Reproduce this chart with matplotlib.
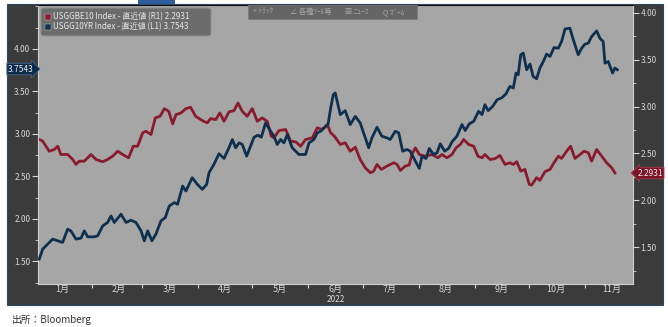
import pandas as pd
import matplotlib.pyplot as plt
import matplotlib.dates as mdates
from matplotlib.ticker import MultipleLocator, FuncFormatter
from matplotlib.patches import Rectangle, FancyBboxPatch

plt.rcParams["font.family"] = ["Noto Sans CJK JP", "DejaVu Sans"]

# days after 2022-01-01
be10_days = [2.1, 4.0, 7.6, 10.4, 12.3, 14.1, 17.8, 20.6, 22.4, 24.2, 27.0, 30.7,
             33.5, 37.2, 39.9, 42.7, 45.5, 48.2, 51.5, 54.1, 56.5, 59.3, 61.1, 63.9,
             66.3, 68.9, 71.3, 73.7, 75.9, 77.7, 80.5, 83.2, 85.8, 88.6, 92.3, 95.0,
             96.9, 99.7, 102.0, 104.3, 107.0, 109.8, 112.0, 114.4, 117.1, 119.9, 122.7,
             125.4, 128.2, 130.4, 131.9, 134.7, 138.4, 141.1, 143.9, 146.7, 149.4,
             153.1, 155.9, 158.6, 161.4, 163.3, 165.5, 168.6, 171.3, 174.1, 176.9,
             179.6, 182.4, 185.2, 187.1, 188.9, 191.3, 194.4, 198.1, 200.0, 201.8,
             204.5, 206.7, 208.2, 210.1, 212.3, 215.6, 219.3, 222.6, 224.8, 227.6,
             230.4, 232.6, 235.0, 236.8, 239.6, 242.4, 244.7, 247.0, 248.6, 251.4,
             254.1, 256.9, 259.7, 262.4, 264.3, 266.2, 268.4, 270.7, 273.1, 274.4,
             277.2, 279.0, 281.8, 284.6, 286.8, 289.2, 291.0, 293.8, 296.0, 298.4,
             301.2, 303.4, 305.8, 307.6, 310.4, 313.2, 315.9, 318.7, 320.5]
be10_vals = [2.649, 2.631, 2.524, 2.542, 2.577, 2.489, 2.489, 2.436, 2.383, 2.418, 2.418, 2.489,
             2.436, 2.412, 2.436, 2.471, 2.524, 2.489, 2.454, 2.577, 2.577, 2.720, 2.737, 2.702,
             2.879, 2.896, 2.978, 2.949, 2.815, 2.914, 2.932, 2.978, 2.992, 2.896, 2.850, 2.826,
             2.872, 2.861, 2.932, 2.843, 2.943, 2.956, 3.038, 2.949, 2.896, 2.978, 2.843,
             2.879, 2.843, 2.684, 2.667, 2.744, 2.755, 2.631, 2.624, 2.577, 2.649,
             2.667, 2.773, 2.755, 2.808, 2.720, 2.680, 2.596, 2.614, 2.524, 2.567,
             2.436, 2.348, 2.295, 2.312, 2.383, 2.330, 2.365, 2.401, 2.383, 2.319,
             2.365, 2.376, 2.489, 2.560, 2.489, 2.471, 2.489, 2.454, 2.489, 2.454,
             2.489, 2.560, 2.596, 2.649, 2.596, 2.577, 2.471, 2.454, 2.489, 2.436,
             2.444, 2.479, 2.383, 2.401, 2.383, 2.412, 2.312, 2.330, 2.171, 2.163,
             2.242, 2.213, 2.306, 2.330, 2.401, 2.471, 2.447, 2.524, 2.577, 2.447,
             2.489, 2.524, 2.507, 2.418, 2.542, 2.471, 2.401, 2.348, 2.2931]

ust10_days = [2.1, 4.0, 6.7, 9.5, 12.3, 15.0, 17.8, 19.6, 22.4, 25.2, 27.0, 28.9, 32.5,
              34.4, 37.2, 39.9, 41.8, 43.6, 47.3, 50.1, 52.8, 55.6, 58.4, 60.2, 62.1,
              64.4, 66.6, 69.4, 71.8, 74.0, 76.8, 78.6, 81.4, 83.2, 86.7, 89.5, 92.3,
              94.7, 96.0, 98.7, 101.5, 104.3, 107.0, 108.9, 110.7, 112.6, 114.4, 116.8,
              118.6, 120.9, 123.1, 124.9, 127.3, 130.1, 131.9, 133.7, 135.6, 137.4,
              139.3, 142.0, 143.9, 145.7, 149.4, 151.3, 154.0, 155.9, 157.7, 159.6,
              161.8, 163.3, 164.7, 165.8, 168.6, 171.3, 174.1, 176.9, 179.6, 182.4,
              184.3, 186.1, 188.9, 191.6, 194.4, 196.2, 199.0, 200.9, 203.1, 205.5,
              207.3, 210.1, 212.3, 213.8, 216.0, 217.8, 220.2, 222.1, 223.9, 226.3,
              228.5, 230.4, 233.1, 235.9, 237.7, 239.9, 242.4, 245.1, 247.0, 248.6,
              250.4, 252.9, 255.4, 257.8, 260.2, 262.4, 264.3, 265.8, 267.0, 268.4,
              269.8, 271.7, 273.5, 275.3, 277.2, 279.0, 280.9, 282.7, 284.6, 286.8,
              289.2, 291.0, 292.9, 295.6, 297.5, 300.2, 302.1, 303.9, 305.8, 307.6,
              310.4, 312.2, 314.0, 315.0, 316.8, 319.2, 320.5, 321.8]
ust10_vals = [1.526, 1.644, 1.702, 1.761, 1.741, 1.722, 1.878, 1.858, 1.761, 1.773, 1.858, 1.788, 1.788,
              1.800, 1.917, 1.957, 2.034, 1.957, 2.054, 1.957, 1.984, 1.957, 1.858, 1.741, 1.858,
              1.741, 1.819, 1.975, 2.015, 2.151, 2.191, 2.171, 2.386, 2.327, 2.484, 2.406, 2.347,
              2.406, 2.543, 2.640, 2.766, 2.710, 2.836, 2.933, 2.836, 2.894, 2.875, 2.737,
              2.836, 2.960, 2.984, 2.960, 3.129, 3.030, 2.972, 2.875, 2.933, 2.894,
              2.992, 2.836, 2.796, 2.757, 2.757, 2.894, 2.933, 3.012, 3.030, 3.070,
              3.109, 3.305, 3.461, 3.481, 3.226, 3.273, 3.109, 3.206, 3.129, 2.953,
              2.836, 2.953, 3.077, 2.972, 2.953, 2.933, 3.030, 3.012, 2.796, 2.816,
              2.796, 2.679, 2.593, 2.737, 2.710, 2.828, 2.757, 2.777, 2.883, 2.796,
              2.828, 2.906, 2.972, 3.109, 3.039, 3.117, 3.148, 3.265, 3.226, 3.343,
              3.273, 3.324, 3.402, 3.422, 3.469, 3.558, 3.539, 3.715, 3.695, 3.930,
              3.950, 3.754, 3.821, 3.675, 3.648, 3.774, 3.851, 3.938, 3.910, 4.015,
              4.008, 4.086, 4.234, 4.243, 4.106, 3.930, 4.008, 4.055, 4.067, 4.144,
              4.211, 4.125, 4.086, 3.832, 3.851, 3.715, 3.774, 3.7543]

left_ticks = [1.5, 2.0, 2.5, 3.0, 3.5, 4.0]
right_ticks = [1.5, 2.0, 2.5, 3.0, 3.5, 4.0]
legend_labels = ["USGGBE10 Index - 直近値 (R1) 2.2931",
                 "USGG10YR Index - 直近値 (L1) 3.7543"]
toolbar_items = ["+ ﾄﾗｯｸ", "∠ 各種ﾂｰﾙ等", "▦ ﾆｭｰｽ", "Q ｽﾞｰﾑ"]

RED = "#8a1a2e"
BLUE = "#0f2f4f"
PANEL = "#3b3b3b"
PLOT_BG = "#a6a6a6"
TXT = "#d6d6d6"

W, H = 668, 327


def fx(x):
    return x / W


def fy(y):
    return 1 - y / H


base = pd.Timestamp("2022-01-01")
be10_dates = base + pd.to_timedelta(be10_days, unit="D")
ust10_dates = base + pd.to_timedelta(ust10_days, unit="D")

fig = plt.figure(figsize=(6.68, 3.27), dpi=100)
fig.patch.set_facecolor("white")

# dark bloomberg panel
fig.add_artist(Rectangle((fx(7), fy(305)), fx(663) - fx(7), fy(4) - fy(305),
                         transform=fig.transFigure, fc=PANEL, ec="#2c4766", lw=0.8, zorder=-5))
fig.add_artist(Rectangle((fx(138), fy(4)), fx(175) - fx(138), fy(0) - fy(4),
                         transform=fig.transFigure, fc="#2f5d9b", ec="none", zorder=-5))

ax = fig.add_axes([fx(38), fy(284), fx(633) - fx(38), fy(5) - fy(284)])
ax2 = ax.twinx()

# blue (left axis) drawn above red (right axis); grey background on the lower axes
ax.set_zorder(ax2.get_zorder() + 1)
ax.patch.set_visible(False)
ax2.patch.set_visible(True)
ax2.patch.set_facecolor(PLOT_BG)

ax2.plot(be10_dates, be10_vals, color=RED, lw=2.0, solid_joinstyle="round", zorder=3)
ax.plot(ust10_dates, ust10_vals, color=BLUE, lw=2.0, solid_joinstyle="round", zorder=3)

ax.set_xlim(base + pd.Timedelta(days=1.4), base + pd.Timedelta(days=330.5))
ax.set_ylim(1.233, 4.516)
ax2.set_ylim(1.109, 4.082)

for a, ticks in ((ax, left_ticks), (ax2, right_ticks)):
    a.set_yticks(ticks)
    a.yaxis.set_major_formatter(FuncFormatter(lambda v, p: f"{v:.2f}"))
    a.yaxis.set_minor_locator(MultipleLocator(0.25))
    a.tick_params(axis="y", which="major", length=4, width=0.8, color="#d0d0d0",
                  labelcolor=TXT, labelsize=6, pad=1.5)
    a.tick_params(axis="y", which="minor", length=2, width=0.6, color="#d0d0d0")
    for s in a.spines.values():
        s.set_visible(False)

ax.spines["left"].set_visible(True)
ax.spines["bottom"].set_visible(True)
ax.spines["top"].set_visible(True)
ax.spines["left"].set_color("#cfcfcf")
ax.spines["bottom"].set_color("#cfcfcf")
ax.spines["top"].set_color("#111111")
ax2.spines["right"].set_visible(True)
ax2.spines["right"].set_color("#cfcfcf")

ax.xaxis.set_major_locator(mdates.MonthLocator())
ax.xaxis.set_major_formatter(FuncFormatter(lambda v, p: ""))
ax.xaxis.set_minor_locator(mdates.MonthLocator(bymonthday=16))
ax.xaxis.set_minor_formatter(FuncFormatter(lambda v, p: f"{mdates.num2date(v).month}月"))
ax.tick_params(axis="x", which="major", length=3, width=0.8, color="#d0d0d0")
ax.tick_params(axis="x", which="minor", length=0, labelsize=6.5, labelcolor=TXT, pad=1)

ax.text(base + pd.Timedelta(days=166), -0.057, "2022", transform=ax.get_xaxis_transform(),
        ha="center", va="center", fontsize=6, color=TXT)

# legend box
fig.add_artist(FancyBboxPatch((fx(41), fy(36)), fx(211) - fx(41), fy(8) - fy(36),
                              boxstyle="round,pad=0,rounding_size=0.006",
                              transform=fig.transFigure, fc="#6c6c6c", ec="#8e8e8e",
                              lw=0.8, zorder=5))
for i, (lab, col) in enumerate(zip(legend_labels, [RED, BLUE])):
    yy = 17 + i * 10
    fig.add_artist(Rectangle((fx(45), fy(yy + 3)), fx(51) - fx(45), fy(yy - 3) - fy(yy + 3),
                             transform=fig.transFigure, fc=col, ec="#cccccc", lw=0.3, zorder=6))
    fig.text(fx(53), fy(yy), lab, fontsize=5.8, color="#e6e6e6", va="center", ha="left",
             zorder=6)

# toolbar
fig.add_artist(Rectangle((fx(248), fy(19)), fx(417) - fx(248), fy(5) - fy(19),
                         transform=fig.transFigure, fc="#5e5e5e", ec="#7a7a7a", lw=0.6,
                         alpha=0.9, zorder=5))
for xpos, item in zip([253, 290, 345, 383], toolbar_items):
    fig.text(fx(xpos), fy(12), item, fontsize=5.2, color="#a8a8a8", va="center",
             ha="left", zorder=6)

# last value tags
fig.text(fx(21), fy(69), "3.7543", fontsize=6, color="#e6eef6", ha="center", va="center",
         zorder=6, bbox=dict(boxstyle="rarrow,pad=0.15", fc="#0e2a48", ec="#3d6a96", lw=0.6))
fig.text(fx(650), fy(173), "2.2931", fontsize=6, color="#f2e6e8", ha="center", va="center",
         zorder=6, bbox=dict(boxstyle="larrow,pad=0.15", fc="#7a1426", ec="#a04050", lw=0.6))

fig.text(fx(12), fy(320), "出所：Bloomberg", fontsize=7, color="#333333", ha="left",
         va="center")

fig.savefig("out.png", dpi=100, facecolor="white")
